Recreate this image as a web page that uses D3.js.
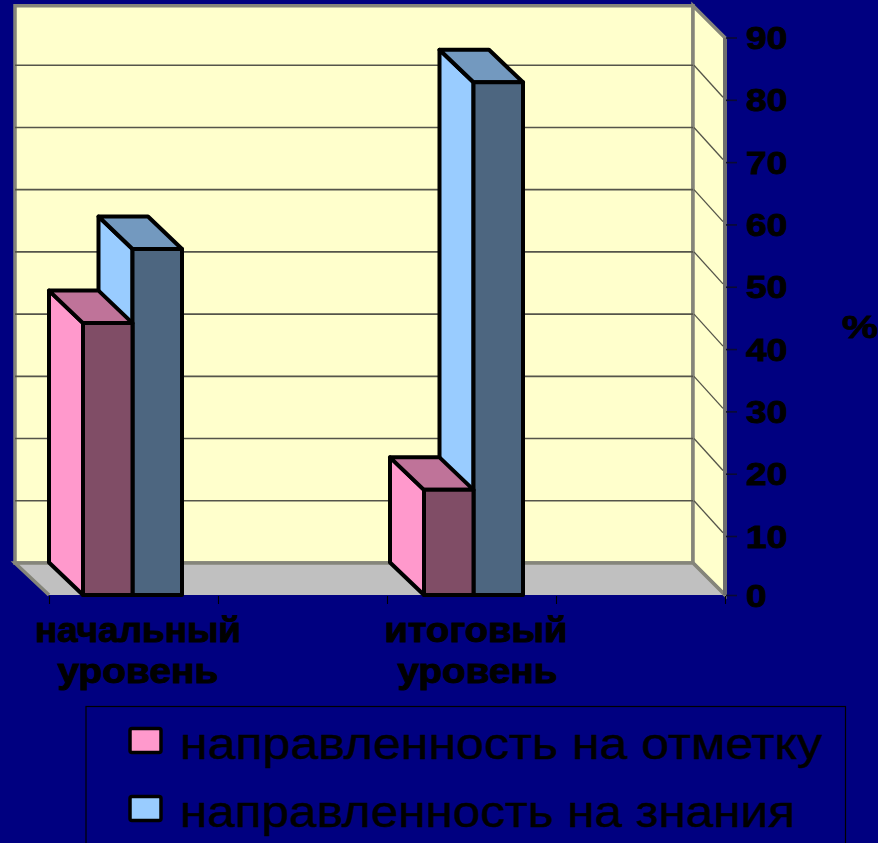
<!DOCTYPE html>
<html><head><meta charset="utf-8">
<script src="https://cdnjs.cloudflare.com/ajax/libs/d3/7.8.5/d3.min.js"></script>
<style>html,body{margin:0;padding:0;background:#000080;overflow:hidden}svg{display:block}text{font-family:"Liberation Sans",Arial,sans-serif;fill:#000;stroke:#000}</style>
</head><body><svg id="c" width="878" height="843"></svg>
<script>
const categories = [["начальный","уровень"], ["итоговый","уровень"]];
const categorySlots = [0, 2];
const slotCount = 4;
const seriesNames = ["направленность на отметку", "направленность на знания"];
const otmetka = [43.7, 16.9];
const znaniya = [55.6, 82.4];
const yTicks = [0,10,20,30,40,50,60,70,80,90];
const gridValues = [10,20,30,40,50,60,70,80];
const wallTopValue = 89.55;

const svg = d3.select("#c");
const sideColors = ["#ff99cc", "#99ccff"], frontColors = ["#804d66", "#4d6680"], topColors = ["#bf7399", "#7399bf"];
const dx = 34, dy = 32.5;
const y = d3.scaleLinear().domain([0,90]).range([595,35]);
const yBack = d3.scaleLinear().domain([0,90]).range([563,3]);
const yTickPos = d3.scaleLinear().domain([0,10,90]).range([595,536,37.5]);
const xEdge = d3.scaleLinear().domain([0,slotCount]).range([49,725]);
const xGroup = d3.scaleLinear().domain([0,2]).range([132.5,473.5]);
const barW = d3.scaleLinear().domain([0,1]).range([0,49.5]);
const gridCol = "#55554a", wallEdge = "#85857a";
const path = pts => "M" + pts.map(p => p.join(",")).join("L") + "Z";
const L = xEdge(0), R = xEdge(slotCount), bL = 15, bR = 693;
const wT = yBack(wallTopValue), fT = y(wallTopValue);

// walls
svg.append("path").attr("d", path([[bL,wT],[bR,wT],[bR,yBack(0)],[bL,yBack(0)]]))
  .attr("fill","#ffffcc").attr("stroke",wallEdge).attr("stroke-width",3.5);
svg.append("path").attr("d", path([[bR,wT],[R,fT],[R,y(0)],[bR,yBack(0)]]))
  .attr("fill","#ffffcc").attr("stroke",wallEdge).attr("stroke-width",3.5);
svg.append("path").attr("d", path([[bL,yBack(0)],[bR,yBack(0)],[R,y(0)],[L,y(0)]]))
  .attr("fill","#c0c0c0");
svg.append("path").attr("d", `M${L},${y(0)}L${bL},${yBack(0)}L${bR},${yBack(0)}L${R},${y(0)}`)
  .attr("fill","none").attr("stroke",wallEdge).attr("stroke-width",3.5);
svg.append("line").attr("x1",R).attr("x2",R).attr("y1",fT).attr("y2",y(0)).attr("stroke","#6e6e6e").attr("stroke-width",4);

// grid
svg.selectAll(".g").data(gridValues).join("line").attr("x1",bL).attr("x2",bR)
  .attr("y1",d=>yBack(d)).attr("y2",d=>yBack(d)).attr("stroke",gridCol).attr("stroke-width",1.6);
svg.selectAll(".s").data(gridValues).join("line").attr("x1",bR+1).attr("x2",R-2)
  .attr("y1",d=>yBack(d)).attr("y2",d=>y(d)).attr("stroke",gridCol).attr("stroke-width",1.3);

// bars
function bar(cat, s, v){
  const x0 = xGroup(categorySlots[cat]) + barW(s-1), x1 = x0 + barW(1);
  const t = y(v), b = y(0);
  const g = svg.append("g").attr("stroke","#000").attr("stroke-width",4).attr("stroke-linejoin","round");
  g.append("path").attr("fill",sideColors[s]).attr("d",path([[x0-dx,t-dy],[x0,t],[x0,b],[x0-dx,b-dy]]));
  g.append("path").attr("fill",topColors[s]).attr("d",path([[x0-dx,t-dy],[x1-dx,t-dy],[x1,t],[x0,t]]));
  g.append("path").attr("fill",frontColors[s]).attr("d",path([[x0,t],[x1,t],[x1,b],[x0,b]]));
}
[znaniya, otmetka].forEach((vals,i)=>{ const s = 1-i; vals.forEach((v,c)=>bar(c,s,v)); });

// axes
const yAxis = svg.append("g").attr("transform",`translate(${R+1},0)`)
  .call(d3.axisRight(yTickPos).tickValues(yTicks).tickSize(11).tickPadding(9).tickFormat(d3.format("d")));
yAxis.select(".domain").remove();
yAxis.selectAll("line").attr("stroke","#0a0a33").attr("stroke-width",1.6);
yAxis.selectAll("text").attr("font-size",31).attr("font-weight","bold").attr("dy","0.36em").attr("stroke-width",0.9)
  .each(function(){ this.setAttribute("textLength", this.getComputedTextLength()*1.2); this.setAttribute("lengthAdjust","spacingAndGlyphs"); });

const xAxis = svg.append("g").attr("transform",`translate(0,${y(0)+1})`)
  .call(d3.axisBottom(xEdge).ticks(slotCount).tickSize(8).tickFormat(""));
xAxis.select(".domain").remove();
xAxis.selectAll("line").attr("stroke","#000").attr("stroke-width",1.1);

// category labels
const xBand = d3.scaleBand().domain(d3.range(slotCount)).range([49,725]);
function fit(t, w){ t.attr("textLength",w).attr("lengthAdjust","spacingAndGlyphs"); return t; }
const labelWidths = [[206,161],[183,160]];
categories.forEach((lines,c)=>lines.forEach((txt,i)=>{
  fit(svg.append("text").attr("x",xBand(categorySlots[c])+xBand.bandwidth()/2+4.5+(i&&c?1.5:0))
    .attr("y",i?683:642).attr("text-anchor","middle").attr("font-size",35).attr("font-weight","bold").attr("stroke-width",1).text(txt),
    labelWidths[c][i]);
}));

// % title
fit(svg.append("text").attr("x",842).attr("y",338).attr("font-size",31).attr("font-weight","bold").attr("stroke-width",0.8).text("%"),36);

// legend
svg.append("rect").attr("x",86).attr("y",706.5).attr("width",759.5).attr("height",160)
  .attr("fill","none").attr("stroke","#000").attr("stroke-width",1.2);
const legendY = [758.5,826.5], legendW = [642,615];
seriesNames.forEach((n,i)=>{
  svg.append("rect").attr("x",130).attr("y",legendY[i]-30).attr("width",31).attr("height",24).attr("rx",2)
    .attr("fill",sideColors[i]).attr("stroke","#000").attr("stroke-width",3.5);
  fit(svg.append("text").attr("x",180).attr("y",legendY[i]).attr("font-size",45).attr("stroke-width",0.5).text(n),legendW[i]);
});
</script></body></html>
